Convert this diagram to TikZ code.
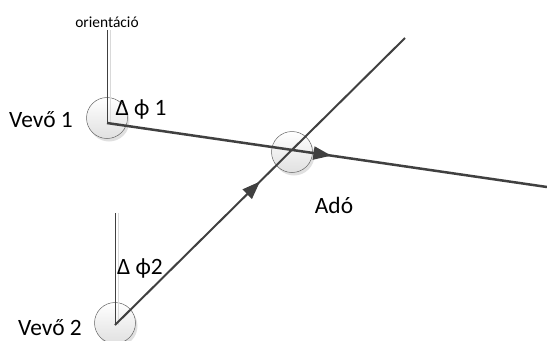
\documentclass[tikz,border=0pt]{standalone}
\usepackage{fontspec}
\setmainfont{Carlito}
\usetikzlibrary{arrows.meta,decorations.markings}
\definecolor{ln}{HTML}{404040}
\tikzset{
  station/.style={circle,minimum size=41bp,inner sep=0pt,draw=black!60,line width=0.5bp,
    top color=white,bottom color=black!12},
  stshadow/.style={circle,minimum size=41bp,inner sep=0pt,fill=black!12},
  ray/.style={draw=ln,line width=2bp},
  midarrow/.style={postaction={decorate},decoration={markings,
     mark=at position #1 with {\arrow{Triangle[length=18bp,width=13bp]}}}},
  orient/.style={draw=black!75,line width=0.5bp},
  orshadow/.style={draw=black!15,line width=0.6bp},
  lbl/.style={font=\fontsize{23.5}{27}\selectfont,text=black,inner sep=0pt,anchor=base},
  small/.style={font=\fontsize{15.5}{18}\selectfont,text=black,inner sep=0pt,anchor=base},
}
\begin{document}
\begin{tikzpicture}[x=1bp,y=-1bp]
\useasboundingbox (0,0) rectangle (547,340);
% shadows
\node[stshadow] at (109,121) {};
\node[stshadow] at (117,326) {};
\node[stshadow] at (294,155) {};
% circles
\node[station] (v1) at (107,118) {};
\node[station] (v2) at (115,323) {};
\node[station] (tx) at (292,152) {};
\coordinate (p1) at (107,123);
\coordinate (p2) at (115,325);
\coordinate (e1) at (547,187);
\coordinate (e2) at (405,38);
\coordinate (o1) at (107,30);
\coordinate (o2) at (115,213);
% orientation lines
\draw[orshadow] ([xshift=3bp]o1) -- ([xshift=3bp]p1);
\draw[orshadow] ([xshift=3bp]o2) -- ([xshift=3bp]p2);
\draw[orient] (o1) -- (p1);
\draw[orient] (o2) -- (p2);
% rays
\draw[ray,line width=2.5bp,midarrow=0.51] (p1) -- (e1);
\draw[ray,line width=2bp,midarrow=0.50] (p2) -- (e2);
% labels
\node[small] (or) at (107,27) {orientáció};
\node[lbl] (l1) at (41,127) {Vevő 1};
\node[lbl] (l2) at (50,335) {Vevő 2};
\node[lbl] (d1) at (141,115) {Δ ϕ 1};
\node[lbl] (d2) at (140,274) {Δ ϕ2};
\node[lbl] (ado) at (334,213) {Adó};
\end{tikzpicture}
\end{document}
